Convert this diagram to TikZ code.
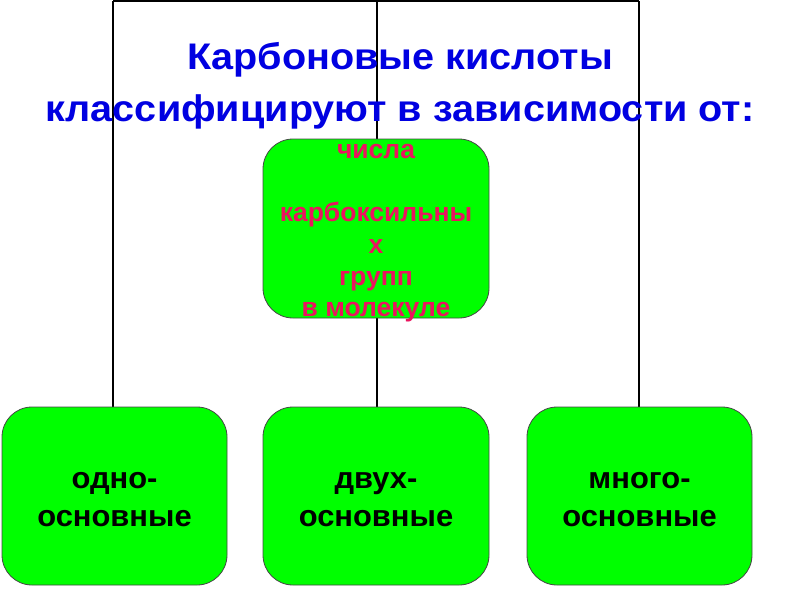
\documentclass[tikz,border=0pt]{standalone}
\usepackage{fontspec}
\setmainfont{Liberation Sans}
\usetikzlibrary{backgrounds}
\definecolor{boxgreen}{RGB}{0,255,0}
\definecolor{boxline}{RGB}{70,70,70}
\definecolor{titleblue}{RGB}{0,0,225}
\definecolor{crimsontext}{RGB}{235,20,95}
\begin{document}
\begin{tikzpicture}[x=1pt,y=-1pt,
  gbox/.style={draw=boxline,line width=0.8pt,fill=boxgreen,rounded corners=30pt,
    inner sep=0pt},
  boxtext/.style={inner sep=0pt,align=center,font=\fontsize{30}{37.5}\selectfont\bfseries},
  titletext/.style={anchor=base,inner sep=0pt,text=titleblue,font=\fontsize{37}{48}\selectfont\bfseries},
  conn/.style={draw=black,line width=1.2pt}]
\useasboundingbox (0,0) rectangle (800,600);
\node[titletext] (title1) at (400,69) {\scalebox{1.07}[1]{Карбоновые кислоты}};
\node[titletext] (title2) at (400,121) {\scalebox{1.07}[1]{классифицируют в зависимости от:}};
\node[gbox,minimum width=226pt,minimum height=179pt] (crit) at (376,228.5) {};
\node[boxtext,text=crimsontext,font=\fontsize{26.5}{31.6}\selectfont\bfseries] (crittext) at (376,233.3) {числа\\\mbox{}\\карбоксильны\\х\\групп\\в молекуле};
\node[gbox,minimum width=225pt,minimum height=178pt] (one) at (114.5,496) {};
\node[gbox,minimum width=226pt,minimum height=178pt] (two) at (376,496) {};
\node[gbox,minimum width=225pt,minimum height=178pt] (many) at (639.5,496) {};
\node[boxtext] (onetext) at (114.5,499.5) {\scalebox{1.03}[1]{одно-}\\\scalebox{1.03}[1]{основные}};
\node[boxtext] (twotext) at (376,499.5) {\scalebox{1.03}[1]{двух-}\\\scalebox{1.03}[1]{основные}};
\node[boxtext] (manytext) at (639.5,499.5) {\scalebox{1.03}[1]{много-}\\\scalebox{1.03}[1]{основные}};
\coordinate (tl) at (113,1);
\coordinate (tm) at (377,1);
\coordinate (tr) at (639,1);
\begin{scope}[on background layer]
\draw[conn] (tl) -- (tr);
\draw[conn] (tl) -- (tl |- one.north);
\draw[conn] (tm) -- (tm |- two.north);
\draw[conn] (tr) -- (tr |- many.north);
\end{scope}
\end{tikzpicture}
\end{document}
